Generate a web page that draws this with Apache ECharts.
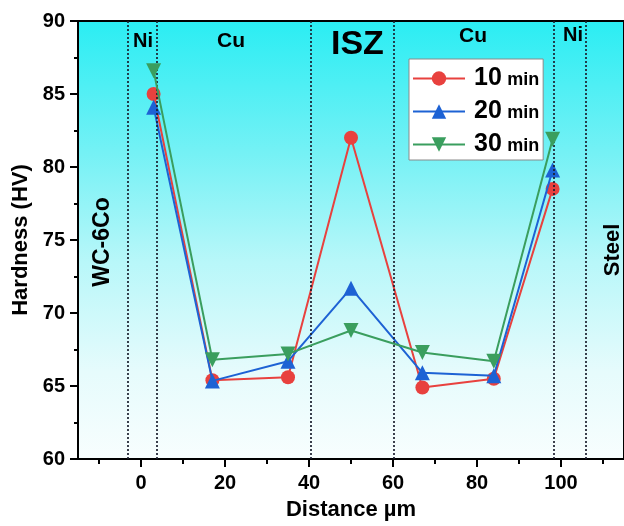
<!DOCTYPE html>
<html><head><meta charset="utf-8">
<script src="https://cdn.jsdelivr.net/npm/echarts@6/dist/echarts.min.js"></script>
<style>html,body{margin:0;padding:0;background:#fff}#c{width:624px;height:526px}</style>
</head><body><div id="c"></div>
<script>
// ---- data ----
const distances = [3, 17, 35, 50, 67, 84, 98];
const hv10 = [85.0, 65.4, 65.6, 82.0, 64.9, 65.5, 78.5];
const hv20 = [84.1, 65.35, 66.7, 71.7, 65.9, 65.7, 79.8];
const hv30 = [86.6, 66.8, 67.2, 68.8, 67.3, 66.7, 81.9];
const seriesNames = ['10 min', '20 min', '30 min'];
const boundaries = [-3.2, 3.8, 40.5, 60.2, 98.3, 106];
const xTickLabels = [0, 20, 40, 60, 80, 100];
const xMinorTicks = [-10, 10, 30, 50, 70, 90, 110];
const zoneLabels = ['Ni', 'Cu', 'ISZ', 'Cu', 'Ni'];
const sideLabels = ['WC-6Co', 'Steel'];

const FONT = '"Liberation Sans", Arial, Helvetica, sans-serif';
const chart = echarts.init(document.getElementById('c'), null, {renderer: 'canvas'});

const colors = ['#E8413E', '#1D62D4', '#3A9E5E'];
const symbols = ['circle', 'triangle', 'triangle'];
const rotates = [0, 0, 180];
const sizes = [14, 15, 15];
const values = [hv10, hv20, hv30];

const series = values.map((vals, k) => ({
  type: 'line',
  name: seriesNames[k],
  xAxisIndex: 0,
  data: distances.map((d, i) => [d, vals[i]]),
  symbol: symbols[k],
  symbolRotate: rotates[k],
  symbolSize: sizes[k],
  showAllSymbol: true,
  lineStyle: {color: colors[k], width: 2},
  itemStyle: {color: colors[k]},
  z: 3 + k,
  animation: false
}));

series.push({
  type: 'line',
  name: 'bounds',
  data: [],
  silent: true,
  markLine: {
    symbol: 'none',
    silent: true,
    label: {show: false},
    lineStyle: {type: [2, 2], color: '#1b1f2e', width: 1.7},
    data: boundaries.map(b => ({xAxis: b}))
  },
  animation: false
});

const textStyleBold = (size) => ({fontFamily: FONT, fontWeight: 'bold', fontSize: size, fill: '#000'});

chart.setOption({
  animation: false,
  grid: {
    left: 78, top: 21, width: 548, height: 441.5,
    show: true, borderColor: '#000', borderWidth: 2,
    backgroundColor: {
      type: 'linear', x: 0, y: 0, x2: 0, y2: 1,
      colorStops: [
        {offset: 0, color: '#2AEDF3'},
        {offset: 0.3, color: '#74F1F5'},
        {offset: 0.55, color: '#B8F7F9'},
        {offset: 0.8, color: '#E6FBFC'},
        {offset: 1, color: '#F8FEFE'}
      ]
    }
  },
  legend: {
    orient: 'vertical', left: 409, top: 59,
    backgroundColor: '#fff', borderColor: '#8a8a8a', borderWidth: 1, borderRadius: 0,
    padding: [7, 4, 3, 3],
    itemWidth: 52, itemHeight: 18, itemGap: 8,
    data: seriesNames,
    formatter: n => { const p = n.split(' '); return '{a|' + p[0] + '} {b|' + p[1] + '}'; },
    textStyle: {
      rich: {
        a: {fontFamily: FONT, fontSize: 25, fontWeight: 'bold', color: '#000', padding: [0, 0, 0, 4]},
        b: {fontFamily: FONT, fontSize: 18, fontWeight: 'bold', color: '#000', padding: [3, 0, 0, 2]}
      }
    }
  },
  xAxis: [{
    type: 'value', min: -15, max: 115,
    axisLine: {show: true, onZero: false, lineStyle: {color: '#000', width: 2}},
    axisTick: {show: true, inside: false, length: 8, customValues: xTickLabels, lineStyle: {color: '#000', width: 2}},
    axisLabel: {customValues: xTickLabels, fontFamily: FONT, fontSize: 20, fontWeight: 'bold', color: '#000', margin: 14},
    splitLine: {show: false},
    name: 'Distance µm', nameLocation: 'middle', nameGap: 40,
    nameTextStyle: {fontFamily: FONT, fontSize: 22, fontWeight: 'bold', color: '#000'}
  }, {
    type: 'value', min: -15, max: 115, position: 'bottom',
    axisLine: {show: false, onZero: false},
    axisTick: {show: true, inside: false, length: 5, customValues: xMinorTicks, lineStyle: {color: '#000', width: 2}},
    axisLabel: {show: false},
    splitLine: {show: false}
  }],
  yAxis: {
    type: 'value', min: 60, max: 90, interval: 5,
    axisLine: {show: true, onZero: false, lineStyle: {color: '#000', width: 2}},
    axisTick: {show: true, inside: false, length: 8, lineStyle: {color: '#000', width: 2}},
    minorTick: {show: true, splitNumber: 2, length: 4, lineStyle: {color: '#000', width: 2}},
    splitLine: {show: false},
    minorSplitLine: {show: false},
    axisLabel: {fontFamily: FONT, fontSize: 20, fontWeight: 'bold', color: '#000', margin: 13},
    name: 'Hardness (HV)', nameLocation: 'middle', nameGap: 43,
    nameTextStyle: {fontFamily: FONT, fontSize: 22, fontWeight: 'bold', color: '#000'}
  },
  graphic: [
    {type: 'text', left: 133, top: 31, z: 10, style: Object.assign({text: zoneLabels[0]}, textStyleBold(20))},
    {type: 'text', left: 217, top: 31, z: 10, style: Object.assign({text: zoneLabels[1]}, textStyleBold(21))},
    {type: 'text', left: 331, top: 28, z: 10, style: Object.assign({text: zoneLabels[2]}, textStyleBold(34))},
    {type: 'text', left: 459, top: 26, z: 10, style: Object.assign({text: zoneLabels[3]}, textStyleBold(21))},
    {type: 'text', left: 563, top: 25, z: 10, style: Object.assign({text: zoneLabels[4]}, textStyleBold(20))},
    {type: 'text', x: 103, y: 242, rotation: Math.PI / 2, z: 10,
      style: Object.assign({text: sideLabels[0], align: 'center', verticalAlign: 'middle'}, textStyleBold(23))},
    {type: 'text', x: 613, y: 250, rotation: Math.PI / 2, z: 10,
      style: Object.assign({text: sideLabels[1], align: 'center', verticalAlign: 'middle'}, textStyleBold(22))}
  ],
  series: series
});
</script>
</body></html>
